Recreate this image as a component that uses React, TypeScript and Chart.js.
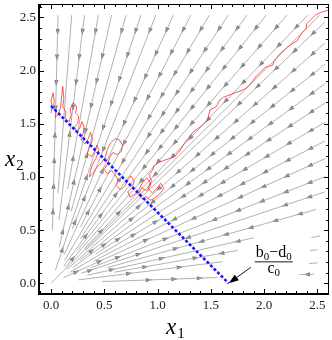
import { useEffect, useRef } from "react";
import { Chart, registerables } from "chart.js";

Chart.register(...registerables);

// axis ranges
const X_MIN = -0.113;
const X_MAX = 2.608;
const Y_MIN = -0.1;
const Y_MAX = 2.625;

// equilibrium line x1 + x2 = (b0 - d0) / c0
const K = 1.667;

const majorTicks = [0, 0.5, 1, 1.5, 2, 2.5];
const tickLabels = ["0.0", "0.5", "1.0", "1.5", "2.0", "2.5"];

// stream lines (rays from the origin): angle in degrees, start and end radius
const segAngle = [88.5, 85.6, 82.9, 80.0, 77.3, 74.4, 71.5, 68.7, 65.5, 62.5, 59.5, 56.6, 53.9, 51.3, 48.7, 46.3, 45.0,
  43.7, 41.3, 38.7, 36.1, 33.4, 30.5, 27.5, 24.5, 21.3, 18.5, 15.6, 12.7, 10.0, 10.0, 7.2, 7.2, 4.4, 2.0, 2.0];
const segFrom = [0.5, 0.85, 0.6, 0.9, 0.35, 0.7, 0.13, 0.55, 0.3, 0.6, 0.25, 0.5, 0.2, 0.4, 0.2, 0.45, 0.0,
  0.45, 0.2, 0.35, 0.25, 0.5, 0.2, 0.45, 0.13, 0.4, 0.3, 0.55, 0.35, 0.6, 2.48, 0.26, 2.45, 2.43, 0.48, 2.33];
const segTo = [9, 9, 9, 9, 9, 9, 9, 9, 9, 9, 9, 9, 9, 9, 9, 9, 9,
  9, 9, 9, 9, 9, 9, 9, 9, 9, 9, 2.58, 1.95, 1.78, 2.56, 1.62, 2.52, 2.51, 1.56, 2.47];

// arrow spacing along a stream line (data units) and first-arrow inset from its outer end
const arrowStep = 0.24;
const arrowInset = 0.16;

// noisy trajectory A (fluctuating around the equilibrium line)
const walkA: [number, number][] = [
  [0.00, 1.60], [0.01, 1.66], [0.00, 1.72], [0.02, 1.79], [0.03, 1.71], [0.02, 1.64], [0.05, 1.62], [0.04, 1.56],
  [0.07, 1.59], [0.09, 1.66], [0.10, 1.76], [0.11, 1.85], [0.12, 1.74], [0.11, 1.66], [0.14, 1.61], [0.13, 1.55],
  [0.17, 1.52], [0.19, 1.58], [0.18, 1.64], [0.21, 1.70], [0.24, 1.66], [0.23, 1.60], [0.26, 1.57], [0.25, 1.50],
  [0.22, 1.47], [0.24, 1.42], [0.27, 1.46], [0.29, 1.52], [0.31, 1.47], [0.30, 1.40], [0.28, 1.35], [0.32, 1.31],
  [0.35, 1.36], [0.37, 1.42], [0.39, 1.35], [0.36, 1.28], [0.34, 1.22], [0.38, 1.19], [0.41, 1.24], [0.43, 1.30],
  [0.45, 1.25], [0.42, 1.17], [0.39, 1.12], [0.37, 1.06], [0.36, 1.00], [0.39, 1.03], [0.43, 1.09], [0.47, 1.13],
  [0.51, 1.19], [0.53, 1.26], [0.56, 1.32], [0.60, 1.36], [0.64, 1.35], [0.67, 1.30], [0.66, 1.24], [0.62, 1.21],
  [0.58, 1.23], [0.55, 1.18], [0.53, 1.12], [0.50, 1.07], [0.53, 1.03], [0.57, 1.06], [0.60, 1.02], [0.63, 0.97],
  [0.61, 0.92], [0.65, 0.88], [0.69, 0.91], [0.72, 0.97], [0.75, 1.01], [0.78, 0.96], [0.76, 0.90], [0.72, 0.86],
  [0.74, 0.81], [0.79, 0.84], [0.83, 0.89], [0.86, 0.95], [0.90, 0.99], [0.93, 0.95], [0.91, 0.89], [0.95, 0.85],
  [0.99, 0.89], [1.03, 0.94], [1.06, 0.89], [1.02, 0.84], [0.97, 0.80], [0.93, 0.78], [0.89, 0.82], [0.86, 0.79],
  [0.82, 0.83], [0.84, 0.88],
];

// noisy trajectory B (escaping to the upper right)
const walkB: [number, number][] = [
  [0.84, 0.90], [0.90, 0.87], [0.93, 0.91], [0.94, 0.97], [0.92, 1.02], [0.95, 1.06], [0.97, 1.11], [1.02, 1.14],
  [1.10, 1.17], [1.16, 1.19], [1.21, 1.25], [1.24, 1.30], [1.30, 1.38], [1.33, 1.42], [1.40, 1.47], [1.47, 1.53],
  [1.49, 1.63], [1.55, 1.66], [1.58, 1.72], [1.62, 1.75], [1.70, 1.78], [1.75, 1.80], [1.81, 1.82], [1.86, 1.86],
  [1.90, 1.91], [1.92, 1.94], [1.97, 1.99], [2.01, 2.03], [2.08, 2.05], [2.09, 2.08], [2.11, 2.11], [2.15, 2.16],
  [2.22, 2.22], [2.26, 2.25], [2.31, 2.28], [2.34, 2.33], [2.36, 2.36], [2.39, 2.39], [2.40, 2.44], [2.43, 2.47],
  [2.48, 2.52], [2.54, 2.55], [2.61, 2.57],
];

const SERIF = '"Liberation Serif", "Times New Roman", serif';

function segEnd(i: number) {
  const th = (segAngle[i] * Math.PI) / 180;
  const c = Math.cos(th);
  const s = Math.sin(th);
  let r = segTo[i];
  if (c > 1e-6) r = Math.min(r, 2.57 / c);
  if (s > 1e-6) r = Math.min(r, 2.52 / s);
  return r;
}

const fieldPlugin = {
  id: "field",
  beforeDatasetsDraw(chart: any) {
    const { ctx, chartArea, scales } = chart;
    const xs = scales.x;
    const ys = scales.y;
    ctx.save();
    ctx.beginPath();
    ctx.rect(chartArea.left, chartArea.top, chartArea.right - chartArea.left, chartArea.bottom - chartArea.top);
    ctx.clip();
    ctx.fillStyle = "#7a7a7a";
    const placed: [number, number][] = [];
    for (let i = 0; i < segAngle.length; i++) {
      const th = (segAngle[i] * Math.PI) / 180;
      const c = Math.cos(th);
      const s = Math.sin(th);
      const r1 = segEnd(i);
      const len = r1 - segFrom[i];
      let r = len < 0.3 ? (r1 + segFrom[i]) / 2 : r1 - arrowInset;
      for (; r > segFrom[i] + 0.07; r -= arrowStep) {
        const vx = r * c;
        const vy = r * s;
        const px = xs.getPixelForValue(vx);
        const py = ys.getPixelForValue(vy);
        if (placed.some(([qx, qy]) => Math.hypot(qx - px, qy - py) < 13)) continue;
        placed.push([px, py]);
        const sign = vx + vy < K ? 1 : -1;
        let dx = xs.getPixelForValue(vx + sign * c * 0.1) - px;
        let dy = ys.getPixelForValue(vy + sign * s * 0.1) - py;
        const dl = Math.hypot(dx, dy) || 1;
        dx /= dl;
        dy /= dl;
        const hl = 3.3;
        const hw = 2.1;
        ctx.beginPath();
        ctx.moveTo(px + dx * hl, py + dy * hl);
        ctx.lineTo(px - dx * hl - dy * hw, py - dy * hl + dx * hw);
        ctx.lineTo(px - dx * hl + dy * hw, py - dy * hl - dx * hw);
        ctx.closePath();
        ctx.fill();
      }
    }
    ctx.restore();
  },
  afterDraw(chart: any) {
    const { ctx, chartArea, scales } = chart;
    const xs = scales.x;
    const ys = scales.y;
    const { left, right, top, bottom } = chartArea;
    ctx.save();
    // frame
    ctx.strokeStyle = "#000";
    ctx.lineWidth = 1;
    ctx.beginPath();
    ctx.moveTo(left, top + 0.5);
    ctx.lineTo(right, top + 0.5);
    ctx.moveTo(right - 0.5, top);
    ctx.lineTo(right - 0.5, bottom);
    ctx.stroke();
    ctx.lineWidth = 2;
    ctx.beginPath();
    ctx.moveTo(left, top);
    ctx.lineTo(left, bottom);
    ctx.lineTo(right, bottom);
    ctx.stroke();
    // ticks
    ctx.lineWidth = 1;
    ctx.beginPath();
    for (let k = -1; k <= 26; k++) {
      const v = k / 10;
      const major = k % 5 === 0;
      const tl = major ? 5 : 3;
      if (v >= X_MIN && v <= X_MAX) {
        const px = Math.round(xs.getPixelForValue(v)) + 0.5;
        ctx.moveTo(px, bottom);
        ctx.lineTo(px, bottom - tl);
        ctx.moveTo(px, top);
        ctx.lineTo(px, top + tl);
      }
      if (v >= Y_MIN && v <= Y_MAX) {
        const py = Math.round(ys.getPixelForValue(v)) + 0.5;
        ctx.moveTo(left, py);
        ctx.lineTo(left + tl, py);
        ctx.moveTo(right, py);
        ctx.lineTo(right - tl, py);
      }
    }
    ctx.stroke();
    // tick labels
    ctx.fillStyle = "#222";
    ctx.font = `13px ${SERIF}`;
    ctx.textBaseline = "middle";
    ctx.textAlign = "center";
    majorTicks.forEach((v, i) => {
      ctx.fillText(tickLabels[i], xs.getPixelForValue(v), bottom + 12);
    });
    ctx.textAlign = "right";
    majorTicks.forEach((v, i) => {
      ctx.fillText(tickLabels[i], left - 3, ys.getPixelForValue(v));
    });
    // axis titles
    ctx.textBaseline = "alphabetic";
    ctx.textAlign = "left";
    ctx.fillStyle = "#000";
    const xt = (x0: number, y0: number, sub: string) => {
      ctx.font = `italic 23px ${SERIF}`;
      ctx.fillText("x", x0, y0);
      const w = ctx.measureText("x").width;
      ctx.font = `15px ${SERIF}`;
      ctx.fillText(sub, x0 + w + 1, y0 + 4);
    };
    xt(166, 334, "1");
    xt(5, 166, "2");
    // annotation: arrow to (K, 0) and fraction label
    const tx = xs.getPixelForValue(K);
    const ty = ys.getPixelForValue(0);
    const ax = tx + 22;
    const ay = ty - 16;
    const ddx = tx - ax;
    const ddy = ty - ay;
    const dl = Math.hypot(ddx, ddy);
    const ux = ddx / dl;
    const uy = ddy / dl;
    ctx.strokeStyle = "#000";
    ctx.lineWidth = 0.9;
    ctx.beginPath();
    ctx.moveTo(ax, ay);
    ctx.lineTo(tx - ux * 6, ty - uy * 6);
    ctx.stroke();
    ctx.fillStyle = "#000";
    ctx.beginPath();
    ctx.moveTo(tx, ty);
    ctx.lineTo(tx - ux * 10 - uy * 3.5, ty - uy * 10 + ux * 3.5);
    ctx.lineTo(tx - ux * 10 + uy * 3.5, ty - uy * 10 - ux * 3.5);
    ctx.closePath();
    ctx.fill();
    // fraction
    const cx = tx + 45;
    const barY = ty - 22;
    const parts: [string, boolean][] = [["b", false], ["0", true], ["\u2212d", false], ["0", true]];
    const widthOf = (t: string, sub: boolean) => {
      ctx.font = sub ? `11px ${SERIF}` : `16px ${SERIF}`;
      return ctx.measureText(t).width;
    };
    let total = 0;
    parts.forEach(([t, sb]) => (total += widthOf(t, sb)));
    let x0 = cx - total / 2;
    parts.forEach(([t, sb]) => {
      const w = widthOf(t, sb);
      ctx.fillText(t, x0, sb ? barY - 1 : barY - 4);
      x0 += w;
    });
    ctx.lineWidth = 0.9;
    ctx.beginPath();
    ctx.moveTo(cx - total / 2 - 1, barY + 0.5);
    ctx.lineTo(cx + total / 2 + 1, barY + 0.5);
    ctx.stroke();
    const dparts: [string, boolean][] = [["c", false], ["0", true]];
    let dt = 0;
    dparts.forEach(([t, sb]) => (dt += widthOf(t, sb)));
    x0 = cx - dt / 2;
    dparts.forEach(([t, sb]) => {
      const w = widthOf(t, sb);
      ctx.fillText(t, x0, sb ? barY + 15 : barY + 12);
      x0 += w;
    });
    ctx.restore();
  },
};

export default function App() {
  const ref = useRef<HTMLCanvasElement | null>(null);
  useEffect(() => {
    if (!ref.current) return;
    const streamSets = segAngle.map((a, i) => {
      const th = (a * Math.PI) / 180;
      const r0 = segFrom[i];
      const r1 = segEnd(i);
      return {
        data: [
          { x: r0 * Math.cos(th), y: r0 * Math.sin(th) },
          { x: r1 * Math.cos(th), y: r1 * Math.sin(th) },
        ],
        showLine: true,
        borderColor: "#a8a8a8",
        borderWidth: 0.9,
        pointRadius: 0,
      };
    });
    const chart = new Chart(ref.current, {
      type: "scatter",
      data: {
        datasets: [
          {
            data: [
              { x: 0, y: K },
              { x: K, y: 0 },
            ],
            showLine: true,
            borderColor: "#1a1aff",
            borderWidth: 2.6,
            borderDash: [3, 2],
            pointRadius: 0,
          },
          {
            data: walkA.map(([x, y]) => ({ x, y })),
            showLine: true,
            borderColor: "rgb(255,45,45)",
            borderWidth: 0.8,
            pointRadius: 0,
          },
          {
            data: walkB.map(([x, y]) => ({ x, y })),
            showLine: true,
            borderColor: "rgb(255,45,45)",
            borderWidth: 0.8,
            pointRadius: 0,
          },
          ...streamSets,
        ] as any,
      },
      options: {
        animation: false,
        responsive: false,
        devicePixelRatio: 1,
        events: [],
        layout: { padding: { left: 39, right: 3, top: 4, bottom: 46 } },
        scales: {
          x: { type: "linear", min: X_MIN, max: X_MAX, display: false },
          y: { type: "linear", min: Y_MIN, max: Y_MAX, display: false },
        },
        plugins: { legend: { display: false }, tooltip: { enabled: false } },
      },
      plugins: [fieldPlugin],
    });
    return () => chart.destroy();
  }, []);
  return (
    <div style={{ position: "fixed", left: 0, top: 0, width: 332, height: 340, background: "#fff" }}>
      <canvas ref={ref} width={332} height={340} style={{ width: 332, height: 340 }} />
    </div>
  );
}
